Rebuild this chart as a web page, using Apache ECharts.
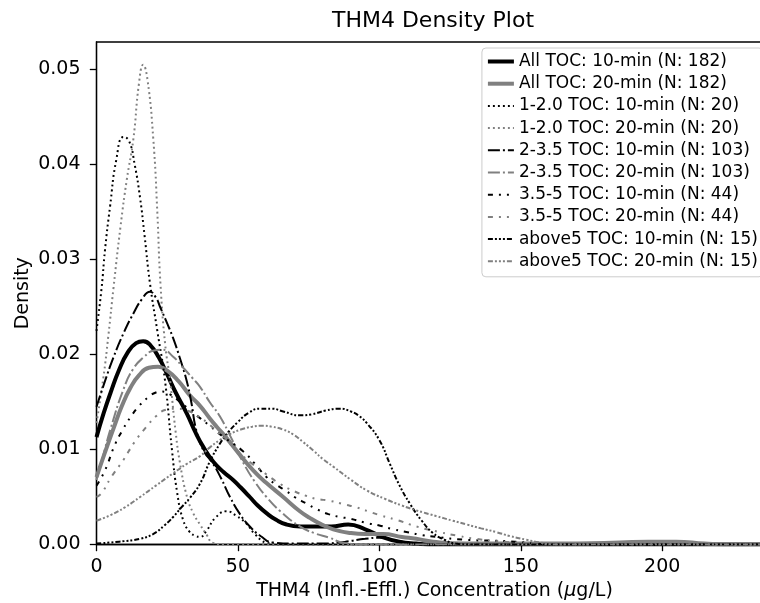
<!DOCTYPE html>
<html><head><meta charset="utf-8">
<script src="https://cdn.jsdelivr.net/npm/echarts@6/dist/echarts.min.js"></script>
<style>html,body{margin:0;padding:0;background:#fff}#c{width:760px;height:603px}</style>
</head><body><div id="c"></div>
<script>
// Series names
const seriesNames = [
  'All TOC: 10-min (N: 182)', 'All TOC: 20-min (N: 182)',
  '1-2.0 TOC: 10-min (N: 20)', '1-2.0 TOC: 20-min (N: 20)',
  '2-3.5 TOC: 10-min (N: 103)', '2-3.5 TOC: 20-min (N: 103)',
  '3.5-5 TOC: 10-min (N: 44)', '3.5-5 TOC: 20-min (N: 44)',
  'above5 TOC: 10-min (N: 15)', 'above5 TOC: 20-min (N: 15)'
];
// Density curves: [concentration, density]
const all10 = [[0,0.0113],[2.5,0.0138],[5,0.016],[8,0.0184],[11,0.0202],[14,0.0212],[16.5,0.0214],[19,0.021],[22,0.0197],[25,0.0179],[28,0.016],[31.9,0.0138],[35,0.0118],[37.7,0.0103],[41.3,0.0087],[45,0.0076],[48.3,0.0068],[51,0.006],[54.2,0.005],[57,0.0041],[60.1,0.0033],[63.5,0.0026],[67.2,0.0021],[72,0.0019],[78,0.0019],[83,0.0019],[89,0.0021],[95,0.0016],[101,0.0008],[107,0.0003],[113,0.0001],[120,0],[239,0]];
const all20 = [[0,0.0071],[3,0.0097],[6,0.0122],[9,0.0146],[12,0.0165],[15,0.0178],[18.5,0.0186],[21.8,0.0187],[25,0.0183],[29,0.0172],[33,0.0157],[36.6,0.0146],[40,0.0133],[42.5,0.0124],[46,0.0112],[50,0.0097],[55.4,0.0078],[60,0.0065],[66,0.005],[71.9,0.0035],[75.4,0.0028],[79,0.0022],[83.7,0.0016],[90,0.0012],[95,0.0011],[101.3,0.0011],[108,0.0008],[113,0.0006],[119,0.0003],[130,0.0001],[150,0.0001],[170,0.0001],[185,0.0002],[195,0.0003],[205,0.0003],[215,0.0001],[226,0],[239,0]];
const toc1_10 = [[0,0.0225],[1.8,0.027],[3,0.031],[4.8,0.0356],[7,0.0405],[9.5,0.0429],[11.5,0.0425],[13.5,0.04],[15.4,0.0365],[17,0.0325],[18.9,0.0275],[21.5,0.0225],[24.2,0.0173],[26.7,0.0099],[28.5,0.0055],[30.6,0.0026],[33,0.0013],[35,0.0009],[36.6,0.0008],[39,0.0015],[42,0.0028],[46,0.0035],[49.5,0.003],[53,0.0022],[56,0.0011],[60,0.0002],[65,0],[239,0]];
const toc1_20 = [[0,0.0128],[2.4,0.0175],[4.2,0.022],[6,0.027],[8.5,0.0335],[10.7,0.0384],[13,0.0426],[15,0.0485],[16.5,0.0505],[18,0.049],[20.1,0.0426],[21.5,0.035],[22.6,0.0275],[24.3,0.021],[26,0.0173],[28,0.0118],[29.5,0.0086],[32,0.005],[34.2,0.0033],[36.6,0.0021],[39,0.001],[41,0.0002],[45,0],[239,0]];
const toc2_10 = [[0,0.0145],[3,0.0172],[6,0.0197],[9.5,0.0222],[13,0.0243],[16,0.0258],[18.9,0.0266],[21,0.026],[22.5,0.025],[24.8,0.0234],[27,0.0218],[29.5,0.0196],[31.9,0.0172],[33.5,0.015],[35.3,0.012],[38,0.0098],[41,0.0086],[44,0.007],[47.2,0.005],[50.5,0.0033],[54.2,0.0019],[58,0.0009],[62.5,0.0002],[70,0.0001],[80,0.0001],[88,0.0003],[95,0.0006],[100,0.0007],[106,0.0004],[112,0.0001],[118,0],[239,0]];
const toc2_20 = [[0,0.0068],[2.5,0.0095],[5,0.0122],[9.5,0.0163],[13,0.0185],[17,0.0198],[20,0.0204],[23.3,0.0205],[27,0.0198],[31,0.0185],[34,0.0175],[36.6,0.0166],[40,0.015],[43.6,0.0135],[48,0.011],[51.9,0.0086],[56,0.0066],[60.1,0.005],[65,0.0035],[71.9,0.0019],[77,0.0012],[82.5,0.0007],[87,0.0002],[95,0],[239,0]];
const toc35_10 = [[0,0.0062],[3,0.0078],[6.5,0.0105],[9.5,0.0122],[12,0.0134],[15.1,0.0146],[18.3,0.0155],[21,0.016],[23,0.0161],[26,0.0158],[30,0.0149],[33.5,0.014],[36.6,0.0133],[40,0.0125],[45,0.0113],[51.9,0.0098],[56,0.0085],[60.1,0.0071],[63,0.0064],[67.2,0.0056],[70,0.005],[74.3,0.0043],[78,0.0037],[82,0.0032],[86,0.0029],[90,0.0027],[95,0.0023],[100,0.002],[105,0.0016],[110,0.0013],[115,0.001],[120,0.0008],[130,0.0005],[140,0.0004],[148,0.0003],[155,0.0001],[162,0],[239,0]];
const toc35_20 = [[0,0.005],[1.8,0.0054],[5,0.007],[9.5,0.0089],[13.5,0.0108],[17.7,0.0124],[21,0.0135],[24.8,0.0142],[28,0.0143],[32,0.0141],[36,0.0135],[40,0.0126],[45,0.0112],[50,0.0098],[55,0.0085],[60,0.0074],[64.8,0.0064],[70,0.0056],[74.3,0.0051],[77.8,0.0048],[82.5,0.0046],[88,0.0042],[92,0.0039],[96,0.0035],[100,0.0031],[106,0.0026],[113,0.0019],[121.4,0.0013],[128,0.0009],[134,0.0006],[140,0.0004],[148,0.0002],[155,0.0001],[162,0],[239,0]];
const toc5_10 = [[0,0.0001],[8,0.0003],[15.4,0.0006],[20,0.0011],[24,0.002],[27.1,0.0029],[30,0.0039],[33,0.0049],[36.6,0.0064],[40,0.0087],[43.6,0.0106],[46,0.0116],[50,0.0129],[54,0.0139],[57.8,0.0143],[62,0.0143],[66,0.014],[71.9,0.0136],[76,0.0137],[81,0.0141],[86,0.0143],[90,0.014],[93,0.0135],[95.5,0.0128],[100,0.011],[103.7,0.0085],[107,0.0063],[110.8,0.0043],[115,0.0025],[119,0.0012],[123,0.0005],[127,0.0001],[132,0],[239,0]];
const toc5_20 = [[0,0.0025],[5,0.0031],[10,0.0039],[15.4,0.005],[21,0.0062],[27.1,0.0075],[32,0.0085],[36.6,0.0093],[40,0.0102],[43.6,0.011],[47,0.0116],[51,0.0121],[55,0.0124],[58,0.0125],[62,0.0124],[66,0.0121],[69.5,0.0116],[73,0.0108],[77,0.0098],[80,0.009],[83.7,0.0082],[90,0.0068],[95.5,0.0057],[102,0.0048],[108,0.0041],[113,0.0036],[120,0.003],[126,0.0025],[131,0.0021],[136,0.0017],[141.4,0.0013],[146,0.0009],[152,0.0005],[157,0.0002],[163,0],[239,0]];
// Axis ticks
const xTicks = [0, 50, 100, 150, 200];
const yTicks = [0, 0.01, 0.02, 0.03, 0.04, 0.05];

const curves = [all10, all20, toc1_10, toc1_20, toc2_10, toc2_20, toc35_10, toc35_20, toc5_10, toc5_20];
const BLACK = '#000000', GRAY = '#808080';
const styles = [
  {c: BLACK, w: 4, t: 'solid'}, {c: GRAY, w: 4, t: 'solid'},
  {c: BLACK, w: 2, t: [1.9, 3.1]}, {c: GRAY, w: 2, t: [1.9, 3.1]},
  {c: BLACK, w: 2, t: [12, 3, 2, 3]}, {c: GRAY, w: 2, t: [12, 3, 2, 3]},
  {c: BLACK, w: 2, t: [5, 6, 2, 6, 2, 6]}, {c: GRAY, w: 2, t: [5, 6, 2, 6, 2, 6]},
  {c: BLACK, w: 2, t: [5, 2, 2, 2, 2, 2, 2, 2]}, {c: GRAY, w: 2, t: [5, 2, 2, 2, 2, 2, 2, 2]}
];
const FONT = 'DejaVu Sans';
const chart = echarts.init(document.getElementById('c'), null, {renderer: 'canvas'});
chart.setOption({
  animation: false,
  backgroundColor: '#ffffff',
  title: {
    text: 'THM4 Density Plot', left: 428, top: 5, textAlign: 'center',
    textStyle: {fontFamily: FONT, fontSize: 22, fontWeight: 'normal', color: '#000'}
  },
  grid: {left: 96.5, right: -12.5, top: 42, bottom: 58.5, show: true, borderColor: '#000', borderWidth: 1.3,
    containLabel: false, outerBoundsMode: 'none'},
  legend: {
    orient: 'vertical', right: -3, top: 48, align: 'left',
    padding: [5, 5, 7, 4], itemWidth: 26, itemHeight: 15, itemGap: 5.2,
    backgroundColor: 'rgba(255,255,255,0.85)', borderColor: '#cccccc', borderWidth: 1, borderRadius: 4,
    itemStyle: {opacity: 0},
    lineStyle: {width: 'inherit'},
    textStyle: {fontFamily: FONT, fontSize: 17, color: '#000', lineHeight: 15, padding: [0, 0, 0, 0]},
    data: seriesNames
  },
  xAxis: {
    type: 'value', min: 0, max: 239, interval: 50,
    name: 'THM4 (Infl.-Effl.) Concentration ({i|μ}g/L)', nameLocation: 'middle', nameGap: 37,
    nameMoveOverlap: false,
    nameTextStyle: {fontFamily: FONT, fontSize: 19, color: '#000', rich: {i: {fontFamily: FONT, fontSize: 19, fontStyle: 'italic', color: '#000'}}},
    axisLine: {lineStyle: {color: '#000', width: 1.3}},
    axisTick: {show: true, length: 6.7, lineStyle: {color: '#000', width: 1.3}},
    axisLabel: {margin: 13, fontFamily: FONT, fontSize: 19, color: '#000', showMaxLabel: false,
      formatter: v => xTicks.includes(v) ? String(v) : ''},
    splitLine: {show: false}
  },
  yAxis: {
    type: 'value', min: 0, max: 0.0529, interval: 0.01,
    name: 'Density', nameLocation: 'middle', nameGap: 64, nameMoveOverlap: false,
    nameTextStyle: {fontFamily: FONT, fontSize: 19, color: '#000'},
    axisLine: {show: true, lineStyle: {color: '#000', width: 1.3}},
    axisTick: {show: true, length: 6.7, lineStyle: {color: '#000', width: 1.3}},
    axisLabel: {margin: 16, fontFamily: FONT, fontSize: 19, color: '#000', showMaxLabel: false,
      formatter: v => yTicks.some(t => Math.abs(t - v) < 1e-9) ? v.toFixed(2) : ''},
    splitLine: {show: false}
  },
  series: curves.map((d, i) => ({
    name: seriesNames[i], type: 'line', data: d, symbol: 'circle', symbolSize: 0, showSymbol: false,
    smooth: 0.5,
    lineStyle: {color: styles[i].c, width: styles[i].w, type: styles[i].t},
    itemStyle: {color: styles[i].c},
    emphasis: {disabled: true}
  }))
});
</script></body></html>
